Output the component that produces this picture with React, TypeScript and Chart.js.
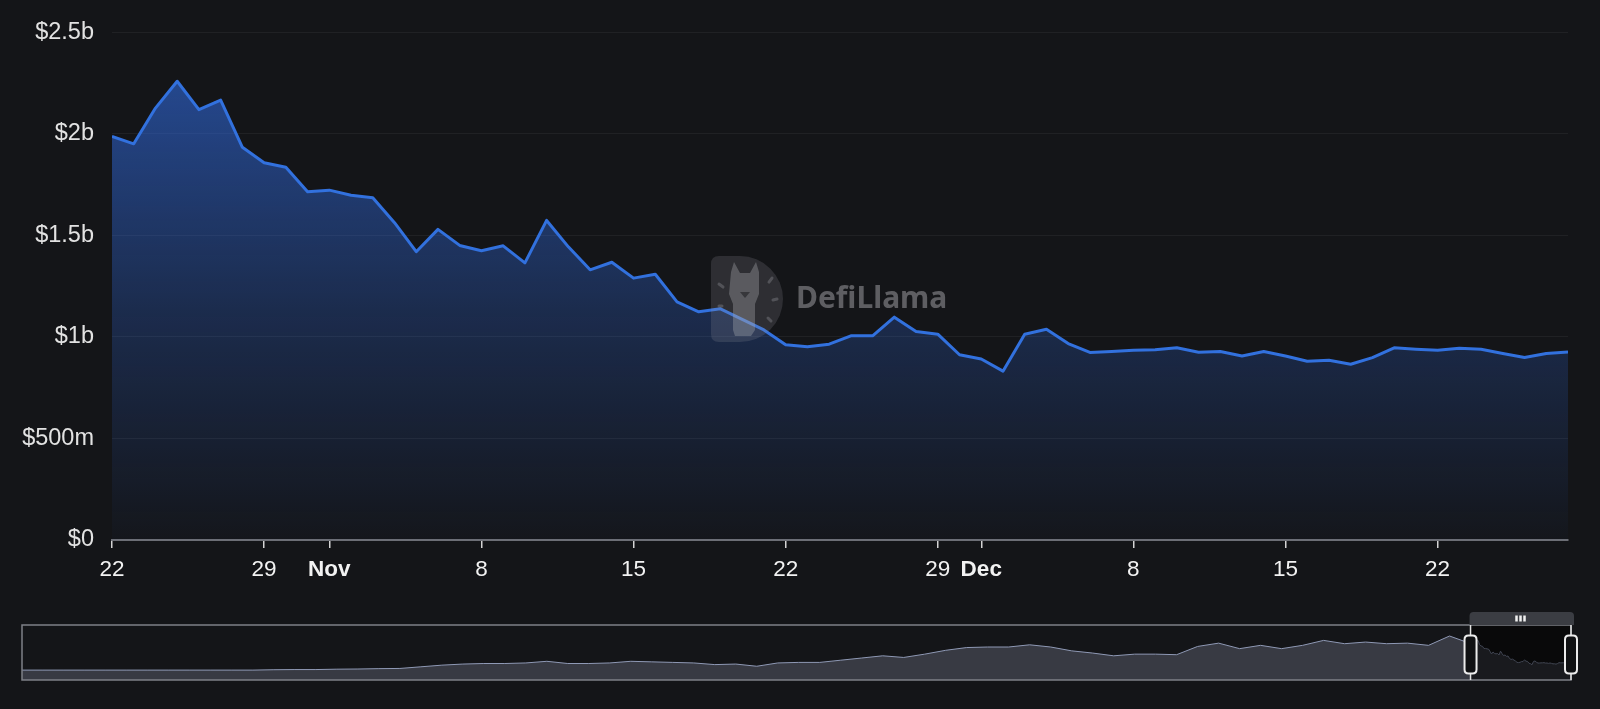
import React, { useEffect, useRef } from 'react';
import { Chart, registerables } from 'chart.js';

Chart.register(...registerables);

// ---- data (TVL in billions of USD, daily from Oct 22 to Dec 28) ----
const tvlBillions = [
  1.987, 1.95, 2.126, 2.258, 2.118, 2.165, 1.933, 1.857, 1.835, 1.714,
  1.722, 1.697, 1.685, 1.562, 1.419, 1.529, 1.45, 1.424, 1.448, 1.364,
  1.573, 1.443, 1.33, 1.367, 1.289, 1.308, 1.172, 1.123, 1.138, 1.086,
  1.034, 0.961, 0.951, 0.964, 1.005, 1.005, 1.097, 1.026, 1.013, 0.912,
  0.891, 0.831, 1.013, 1.037, 0.967, 0.923, 0.928, 0.934, 0.937, 0.946,
  0.924, 0.928, 0.906, 0.928, 0.906, 0.88, 0.885, 0.865, 0.898, 0.946,
  0.939, 0.934, 0.944, 0.939, 0.918, 0.898, 0.918, 0.926,
];

// x-axis ticks (day offsets from Oct 22) and their labels
const tickDays = [0, 7, 10, 17, 24, 31, 38, 40, 47, 54, 61];
const tickLabels = ['22', '29', 'Nov', '8', '15', '22', '29', 'Dec', '8', '15', '22'];
const monthTickLabels = ['Nov', 'Dec'];

// y-axis ticks
const yTickValues = [0, 0.5, 1, 1.5, 2, 2.5];
const yTickLabels = ['$0', '$500m', '$1b', '$1.5b', '$2b', '$2.5b'];

// overview (data-zoom) history before the selected window, billions, one value per step
const historyBillions = [
  0.54, 0.54, 0.54, 0.54, 0.54, 0.54, 0.54, 0.54, 0.54, 0.54,
  0.54, 0.54, 0.56, 0.57, 0.57, 0.59, 0.6, 0.62, 0.63, 0.72,
  0.81, 0.87, 0.9, 0.9, 0.93, 1.02, 0.9, 0.9, 0.93, 1.02,
  0.99, 0.96, 0.93, 0.84, 0.87, 0.75, 0.93, 0.96, 0.96, 1.08,
  1.2, 1.32, 1.23, 1.41, 1.62, 1.77, 1.8, 1.8, 1.92, 1.8,
  1.59, 1.47, 1.32, 1.41, 1.41, 1.38, 1.83, 2.01, 1.71, 1.89,
  1.71, 1.89, 2.16, 1.98, 2.07, 1.98, 2.01, 1.89, 2.4,
];
const historyStepDays = 14;
const overviewMaxBillions = 3.0;

// ---- style ----
const BG = '#141518';
const LINE = '#3271de';
const FONT = "'Liberation Sans', Arial, Helvetica, sans-serif";

const watermarkPlugin = {
  id: 'watermark',
  afterDatasetsDraw(chart: any) {
    const { ctx, chartArea } = chart;
    const cx = (chartArea.left + chartArea.right) / 2;
    const cy = (chartArea.top + chartArea.bottom) / 2;
    const lx = cx - 129;
    const ly = cy - 30;
    const lw = 72;
    const lh = 86;
    ctx.save();
    // D shape
    ctx.fillStyle = 'rgba(150,150,158,0.2)';
    ctx.beginPath();
    ctx.moveTo(lx + 8, ly);
    ctx.lineTo(lx + lw - lh / 2, ly);
    ctx.arc(lx + lw - lh / 2, ly + lh / 2, lh / 2, -Math.PI / 2, Math.PI / 2);
    ctx.lineTo(lx + 8, ly + lh);
    ctx.quadraticCurveTo(lx, ly + lh, lx, ly + lh - 8);
    ctx.lineTo(lx, ly + 8);
    ctx.quadraticCurveTo(lx, ly, lx + 8, ly);
    ctx.closePath();
    ctx.fill();
    // llama
    ctx.fillStyle = 'rgba(170,170,176,0.36)';
    ctx.beginPath();
    const pts = [
      [20, 16], [23, 6], [29, 17], [39, 17], [45, 6], [48, 16], [48, 38],
      [44, 48], [44, 74], [40, 80], [24, 80], [22, 74], [22, 48], [18, 38],
    ];
    pts.forEach(([px, py], i) => {
      if (i === 0) ctx.moveTo(lx + px, ly + py);
      else ctx.lineTo(lx + px, ly + py);
    });
    ctx.closePath();
    ctx.fill();
    ctx.fillStyle = 'rgba(20,20,24,0.5)';
    ctx.beginPath();
    ctx.moveTo(lx + 29, ly + 36);
    ctx.lineTo(lx + 39, ly + 36);
    ctx.lineTo(lx + 34, ly + 42);
    ctx.closePath();
    ctx.fill();
    // rays
    ctx.strokeStyle = 'rgba(170,170,176,0.3)';
    ctx.lineWidth = 3;
    ctx.lineCap = 'round';
    const rays = [
      [8, 28, 12, 31], [8, 50, 11, 50], [58, 26, 61, 22], [62, 44, 66, 43], [57, 62, 60, 65],
    ];
    rays.forEach(([a, b, c, d]) => {
      ctx.beginPath();
      ctx.moveTo(lx + a, ly + b);
      ctx.lineTo(lx + c, ly + d);
      ctx.stroke();
    });
    // text
    ctx.fillStyle = 'rgba(175,175,180,0.48)';
    ctx.font = "bold 30px 'Noto Sans', 'DejaVu Sans', sans-serif";
    ctx.textBaseline = 'middle';
    ctx.textAlign = 'left';
    ctx.fillText('DefiLlama', lx + lw + 13, ly + 43);
    ctx.restore();
  },
};

const overviewPlugin = {
  id: 'overviewFrame',
  afterDraw(chart: any) {
    const { ctx, chartArea, scales } = chart;
    const { left, right, top, bottom } = chartArea;
    const xs = scales.x.getPixelForValue(0);
    const xe = right;
    ctx.save();
    // selected window shade
    ctx.fillStyle = 'rgba(0,0,0,0.55)';
    ctx.fillRect(xs, top, xe - xs, bottom - top);
    // outer frame
    ctx.strokeStyle = '#7e8087';
    ctx.lineWidth = 1.5;
    ctx.strokeRect(left, top, right - left, bottom - top);
    // tab on top of window
    const tabTop = top - 13;
    const r = 4;
    ctx.fillStyle = '#3b3d43';
    ctx.beginPath();
    ctx.moveTo(xs - 1, top);
    ctx.lineTo(xs - 1, tabTop + r);
    ctx.quadraticCurveTo(xs - 1, tabTop, xs - 1 + r, tabTop);
    ctx.lineTo(xe + 3 - r, tabTop);
    ctx.quadraticCurveTo(xe + 3, tabTop, xe + 3, tabTop + r);
    ctx.lineTo(xe + 3, top);
    ctx.closePath();
    ctx.fill();
    ctx.fillStyle = '#f0f0f0';
    const mid = (xs + xe) / 2;
    [-4.5, -0.5, 3.5].forEach((dx) => ctx.fillRect(mid + dx - 1, tabTop + 3.5, 2.5, 6));
    // window borders
    ctx.strokeStyle = '#e2e2e2';
    ctx.lineWidth = 1.5;
    [xs, xe].forEach((x) => {
      ctx.beginPath();
      ctx.moveTo(x, top);
      ctx.lineTo(x, bottom);
      ctx.stroke();
    });
    // handles
    const hh = 38;
    const hw = 12;
    const hy = (top + bottom) / 2 - hh / 2 + 2;
    [xs, xe].forEach((x) => {
      ctx.beginPath();
      const x0 = x - hw / 2;
      const rr = 4;
      ctx.moveTo(x0 + rr, hy);
      ctx.lineTo(x0 + hw - rr, hy);
      ctx.quadraticCurveTo(x0 + hw, hy, x0 + hw, hy + rr);
      ctx.lineTo(x0 + hw, hy + hh - rr);
      ctx.quadraticCurveTo(x0 + hw, hy + hh, x0 + hw - rr, hy + hh);
      ctx.lineTo(x0 + rr, hy + hh);
      ctx.quadraticCurveTo(x0, hy + hh, x0, hy + hh - rr);
      ctx.lineTo(x0, hy + rr);
      ctx.quadraticCurveTo(x0, hy, x0 + rr, hy);
      ctx.closePath();
      ctx.fillStyle = '#101113';
      ctx.fill();
      ctx.strokeStyle = '#ececec';
      ctx.lineWidth = 2;
      ctx.stroke();
    });
    ctx.restore();
  },
};

export default function App() {
  const mainRef = useRef<HTMLCanvasElement | null>(null);
  const ovRef = useRef<HTMLCanvasElement | null>(null);

  useEffect(() => {
    document.body.style.margin = '0';
    document.body.style.background = BG;
    const mainData = tvlBillions.map((v, i) => ({ x: i, y: v }));
    const lastDay = tvlBillions.length - 1;

    const main = new Chart(mainRef.current as HTMLCanvasElement, {
      type: 'line',
      data: {
        datasets: [
          {
            data: mainData,
            borderColor: LINE,
            borderWidth: 3,
            borderJoinStyle: 'round',
            pointRadius: 0,
            tension: 0,
            fill: 'origin',
            backgroundColor: (c: any) => {
              const { chart } = c;
              const area = chart.chartArea;
              if (!area) return 'rgba(50,110,230,0.3)';
              const g = chart.ctx.createLinearGradient(0, area.top, 0, area.bottom);
              g.addColorStop(0, 'rgba(50,110,230,0.64)');
              g.addColorStop(0.55, 'rgba(50,110,230,0.26)');
              g.addColorStop(1, 'rgba(50,110,230,0.02)');
              return g;
            },
          },
        ],
      },
      options: {
        animation: false,
        responsive: false,
        events: [],
        layout: { padding: { left: 0, right: 32, top: 32, bottom: 14 } },
        plugins: { legend: { display: false }, tooltip: { enabled: false } },
        scales: {
          x: {
            type: 'linear',
            min: 0,
            max: lastDay,
            afterBuildTicks: (s: any) => {
              s.ticks = tickDays.map((v) => ({ value: v }));
            },
            afterFit: (s: any) => {
              s.height = 46;
            },
            grid: {
              drawOnChartArea: false,
              drawTicks: true,
              tickLength: 8,
              color: '#d4d4d4',
              lineWidth: 1.5,
            },
            border: { display: true, color: '#6c6e75', width: 2 },
            ticks: {
              autoSkip: false,
              maxRotation: 0,
              padding: 8,
              color: '#f2f2f2',
              font: (c: any) => ({
                family: FONT,
                size: 22.5,
                weight: monthTickLabels.includes(tickLabels[c.index]) ? 'bold' : 'normal',
              }),
              callback: (_v: any, i: number) => tickLabels[i],
            },
          },
          y: {
            min: 0,
            max: 2.5,
            afterBuildTicks: (s: any) => {
              s.ticks = yTickValues.map((v) => ({ value: v }));
            },
            afterFit: (s: any) => {
              s.width = 112;
            },
            grid: {
              drawTicks: false,
              color: (c: any) => (c.tick && c.tick.value === 0 ? 'rgba(0,0,0,0)' : 'rgba(255,255,255,0.055)'),
              lineWidth: 1,
            },
            border: { display: false },
            ticks: {
              padding: 18,
              color: '#e2e2e2',
              font: { family: FONT, size: 23.5 },
              callback: (_v: any, i: number) => yTickLabels[i],
            },
          },
        },
      } as any,
      plugins: [watermarkPlugin],
    });

    const historyData = historyBillions.map((v, k) => ({
      x: (k - historyBillions.length) * historyStepDays,
      y: v,
    }));
    const overviewData = historyData.concat(mainData);

    const ov = new Chart(ovRef.current as HTMLCanvasElement, {
      type: 'line',
      data: {
        datasets: [
          {
            data: overviewData,
            borderColor: '#8f99b5',
            borderWidth: 1,
            pointRadius: 0,
            tension: 0,
            fill: 'origin',
            backgroundColor: '#383a43',
          },
        ],
      },
      options: {
        animation: false,
        responsive: false,
        events: [],
        layout: { padding: { left: 22, right: 29, top: 25, bottom: 20 } },
        plugins: { legend: { display: false }, tooltip: { enabled: false } },
        scales: {
          x: { type: 'linear', display: false, min: historyData[0].x, max: lastDay },
          y: { display: false, min: 0, max: overviewMaxBillions },
        },
      } as any,
      plugins: [overviewPlugin],
    });

    return () => {
      main.destroy();
      ov.destroy();
    };
  }, []);

  return (
    <div
      style={{
        position: 'fixed',
        left: 0,
        top: 0,
        width: 1600,
        height: 709,
        background: BG,
        overflow: 'hidden',
      }}
    >
      <canvas
        ref={mainRef}
        width={1600}
        height={600}
        style={{ position: 'absolute', left: 0, top: 0, width: 1600, height: 600 }}
      />
      <canvas
        ref={ovRef}
        width={1600}
        height={100}
        style={{ position: 'absolute', left: 0, top: 600, width: 1600, height: 100 }}
      />
    </div>
  );
}
